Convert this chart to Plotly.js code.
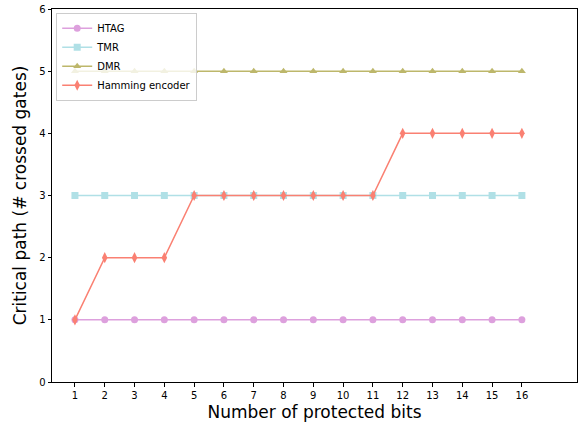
<!DOCTYPE html>
<html><head><meta charset="utf-8">
<script src="https://cdn.plot.ly/plotly-3.0.1.min.js"></script>
<style>html,body{margin:0;padding:0;background:#fff}#chart{width:585px;height:424px}</style>
</head><body><div id="chart"></div>
<script>
const bits = [1,2,3,4,5,6,7,8,9,10,11,12,13,14,15,16];
const htag = [1,1,1,1,1,1,1,1,1,1,1,1,1,1,1,1];
const tmr = [3,3,3,3,3,3,3,3,3,3,3,3,3,3,3,3];
const dmr = [5,5,5,5,5,5,5,5,5,5,5,5,5,5,5,5];
const hamming = [1,2,2,2,3,3,3,3,3,3,3,4,4,4,4,4];
const names = ['HTAG','TMR','DMR','Hamming encoder'];
const colors = ['#DDA0DD','#B0E0E6','#BDB76B','#FA8072'];
const symbols = ['circle','square','triangle-up','diamond-tall'];
const series = [htag,tmr,dmr,hamming];
const traces = series.map((s,i)=>({
  x: bits, y: s, name: names[i], type:'scatter', mode:'lines+markers',
  line:{color:colors[i], width:1.5},
  marker:{color:colors[i], symbol:symbols[i], size: i===3?8:7}
}));
const layout = {
  width:585, height:424,
  margin:{l:52,r:8,t:9,b:42},
  paper_bgcolor:'#fff', plot_bgcolor:'#fff',
  font:{family:'DejaVu Sans', color:'#000', size:10},
  showlegend:true,
  legend:{x:0.008, y:0.99, xanchor:'left', yanchor:'top', bgcolor:'rgba(255,255,255,0.8)', bordercolor:'#cccccc', borderwidth:1, font:{size:10}, tracegroupgap:0, itemwidth:30},
  xaxis:{range:[0.23,17.85], tickvals:bits, ticktext:bits.map(String), showgrid:false, zeroline:false,
    showline:true, linecolor:'#000', linewidth:1, mirror:true, ticks:'outside', ticklen:3.5, tickcolor:'#000',
    title:{text:'Number of protected bits', font:{size:17}, standoff:6}},
  yaxis:{range:[0,6], dtick:1, showgrid:false, zeroline:false,
    showline:true, linecolor:'#000', linewidth:1, mirror:true, ticks:'outside', ticklen:3.5, tickcolor:'#000',
    title:{text:'Critical path (# crossed gates)', font:{size:17}, standoff:8}}
};
Plotly.newPlot('chart', traces, layout, {displayModeBar:false, staticPlot:true});
</script></body></html>
